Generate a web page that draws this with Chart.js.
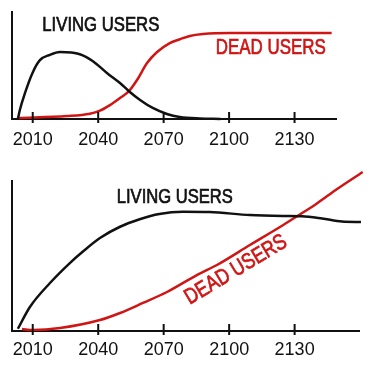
<!DOCTYPE html>
<html lang="en">
<head>
    <meta charset="UTF-8">
    <title>Living users vs dead users</title>
    <script src="https://cdn.jsdelivr.net/npm/chart.js"></script>
    <style>
        body {
            margin: 0;
            background: #fff;
        }
        canvas {
            display: block;
        }
    </style>
</head>
<body>
    <canvas id="graficoCurto" width="375" height="165"></canvas>
    <canvas id="graficoLongo" width="375" height="206"></canvas>

    <script>
        // tick labels on both x axes
        const tickYears = [2010, 2040, 2070, 2100, 2130];

        // top panel: the site dies out
        const topLivingYears = [2003.2, 2004.1, 2006.4, 2010.1, 2013.3, 2017.9, 2022.5, 2031.6, 2037.6, 2044, 2050, 2054.1, 2059.2, 2065, 2071.5, 2077.4, 2086.6, 2096];
        const topLiving      = [0, 8.4, 24, 44, 55, 60, 62.6, 60.5, 54, 43, 33.6, 26, 17.8, 10.3, 4.7, 1.9, 0.5, 0];
        const topDeadYears   = [2003.2, 2025.7, 2036.2, 2040.8, 2045.4, 2050, 2054.1, 2057.8, 2062.4, 2067, 2072.8, 2077.4, 2082, 2088, 2100.4, 2147];
        const topDead        = [1, 2.8, 5, 7.8, 13, 19.6, 26, 36.4, 52.3, 62.6, 71, 74.5, 77.6, 79.4, 80.4, 80.4];

        // bottom panel: the site keeps going
        const botLivingYears = [2003.2, 2008.7, 2017.9, 2027, 2033, 2040.8, 2050, 2059, 2068, 2078.8, 2091, 2109.5, 2124.6, 2133.3, 2142.6, 2151.7, 2160.4];
        const botLiving      = [1.5, 16, 32, 45.3, 53, 62, 69.5, 74.5, 78, 79.5, 79.3, 77.3, 76.7, 76.5, 75, 73, 72.7];
        const botDeadYears   = [2005.1, 2010, 2022.5, 2040.8, 2050, 2060.5, 2071.5, 2085.2, 2094.4, 2109.5, 2124.6, 2133.3, 2140.2, 2149.3, 2161.2];
        const botDead        = [1.3, 0.7, 2, 7.3, 12, 18.7, 26, 37.3, 44, 57.3, 70.5, 78.5, 85, 94.5, 106];

        const PRETO = '#111';
        const VERMELHO = '#d01515';
        const FONTE = '"Liberation Sans", Arial, sans-serif';

        function pontos(xs, ys) {
            return xs.map((x, i) => ({ x: x, y: ys[i] }));
        }

        // hand-lettered labels, squeezed to the width of the original lettering
        const rotulos = {
            id: 'rotulos',
            afterDatasetsDraw(chart, args, opts) {
                const { ctx, scales: { x, y } } = chart;
                (opts.items || []).forEach(it => {
                    ctx.save();
                    ctx.translate(x.getPixelForValue(it.x), y.getPixelForValue(it.y));
                    ctx.rotate((it.angle || 0) * Math.PI / 180);
                    ctx.font = it.size + 'px ' + FONTE;
                    const w = ctx.measureText(it.text).width;
                    ctx.scale(it.width / w, 1);
                    ctx.fillStyle = it.color;
                    ctx.strokeStyle = it.color;
                    ctx.lineWidth = 0.7;
                    ctx.textAlign = 'center';
                    ctx.textBaseline = 'middle';
                    ctx.fillText(it.text, 0, 0);
                    ctx.strokeText(it.text, 0, 0);
                    ctx.restore();
                });
            }
        };

        // tick marks that cross the x axis
        const marcas = {
            id: 'marcas',
            afterDraw(chart) {
                const { ctx, scales: { x }, chartArea } = chart;
                ctx.save();
                ctx.strokeStyle = PRETO;
                ctx.lineWidth = 2;
                x.ticks.forEach(t => {
                    const px = x.getPixelForValue(t.value);
                    ctx.beginPath();
                    ctx.moveTo(px, chartArea.bottom - 7);
                    ctx.lineTo(px, chartArea.bottom + 4);
                    ctx.stroke();
                });
                ctx.restore();
            }
        };

        function criarGrafico(id, viva, morta, xMax, padding, tickPad, items) {
            const ctx = document.getElementById(id).getContext('2d');
            return new Chart(ctx, {
                type: 'line',
                data: {
                    datasets: [{
                        label: 'Living users',
                        data: viva,
                        borderColor: PRETO,
                        borderWidth: 2.5,
                        pointRadius: 0,
                        cubicInterpolationMode: 'monotone',
                        clip: false
                    }, {
                        label: 'Dead users',
                        data: morta,
                        borderColor: VERMELHO,
                        borderWidth: 2.5,
                        pointRadius: 0,
                        cubicInterpolationMode: 'monotone',
                        clip: false
                    }]
                },
                options: {
                    responsive: false,
                    animation: false,
                    layout: { padding: padding },
                    plugins: {
                        legend: { display: false },
                        tooltip: { enabled: false },
                        rotulos: { items: items }
                    },
                    scales: {
                        x: {
                            type: 'linear',
                            min: 2000.5,
                            max: xMax,
                            grid: { display: false, drawTicks: false },
                            border: { display: true, color: PRETO, width: 2 },
                            afterBuildTicks: s => { s.ticks = tickYears.map(v => ({ value: v })); },
                            afterFit: s => { s.height = 32; },
                            ticks: {
                                padding: tickPad,
                                maxRotation: 0,
                                color: PRETO,
                                font: { family: FONTE, size: 18 },
                                callback: v => String(v)
                            }
                        },
                        y: {
                            min: 0,
                            max: 100,
                            grid: { display: false, drawTicks: false },
                            border: { display: true, color: PRETO, width: 2 },
                            ticks: { display: false },
                            afterFit: s => { s.width = 0; }
                        }
                    }
                },
                plugins: [rotulos, marcas]
            });
        }

        criarGrafico('graficoCurto',
            pontos(topLivingYears, topLiving),
            pontos(topDeadYears, topDead),
            2149,
            { top: 12, left: 12, right: 39, bottom: 14 },
            10,
            [
                { text: 'LIVING USERS', x: 2041.2, y: 87.7, size: 20, width: 117, color: PRETO },
                { text: 'DEAD USERS', x: 2119.1, y: 66, size: 22, width: 110, color: VERMELHO }
            ]);

        criarGrafico('graficoLongo',
            pontos(botLivingYears, botLiving),
            pontos(botDeadYears, botDead),
            2159.5,
            { top: 16, left: 12, right: 16, bottom: 8 },
            8,
            [
                { text: 'LIVING USERS', x: 2075.1, y: 88.7, size: 20, width: 116, color: PRETO },
                { text: 'DEAD USERS', x: 2103.1, y: 40.7, size: 22, width: 115, color: VERMELHO, angle: -31 }
            ]);
    </script>
</body>
</html>
